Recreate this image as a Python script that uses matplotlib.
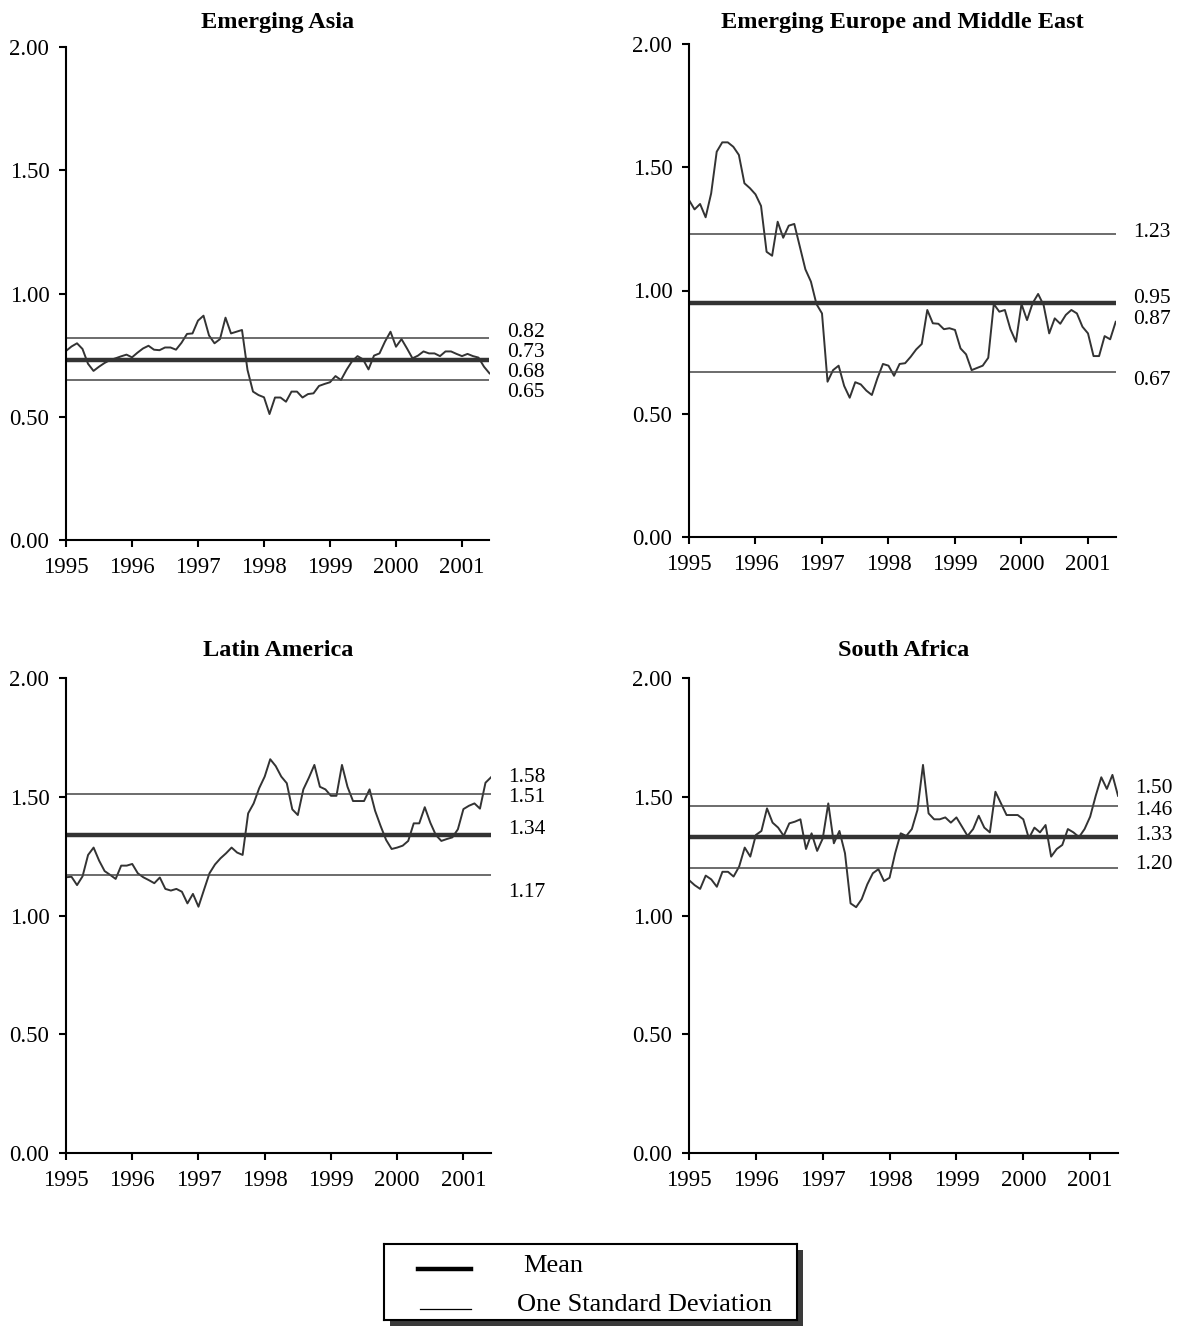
import numpy as np
import matplotlib
matplotlib.use('Agg')
import matplotlib.pyplot as plt
from matplotlib.patches import Rectangle

plt.rcParams['font.family'] = ['Liberation Serif', 'DejaVu Serif']

# monthly series, Jan 1995 - Jun 2001
months = 1995 + np.arange(78) / 12.0

asia = [0.767, 0.785, 0.798, 0.775, 0.715, 0.686, 0.703, 0.718, 0.730, 0.737,
        0.745, 0.752, 0.741, 0.760, 0.777, 0.788, 0.772, 0.770, 0.781, 0.781,
        0.772, 0.800, 0.836, 0.838, 0.890, 0.910, 0.830, 0.798, 0.815, 0.902,
        0.838, 0.845, 0.852, 0.690, 0.602, 0.588, 0.579, 0.511, 0.578, 0.578,
        0.561, 0.602, 0.602, 0.578, 0.592, 0.595, 0.625, 0.633, 0.640, 0.665,
        0.649, 0.690, 0.725, 0.746, 0.733, 0.692, 0.748, 0.757, 0.805, 0.845,
        0.784, 0.815, 0.777, 0.737, 0.748, 0.765, 0.757, 0.757, 0.746, 0.765,
        0.765, 0.755, 0.746, 0.755, 0.746, 0.740, 0.703, 0.676]

europe = [1.367, 1.329, 1.351, 1.297, 1.394, 1.563, 1.601, 1.601, 1.583, 1.550,
          1.435, 1.415, 1.390, 1.343, 1.157, 1.141, 1.279, 1.214, 1.263, 1.270,
          1.178, 1.086, 1.036, 0.945, 0.907, 0.630, 0.677, 0.695, 0.613, 0.565,
          0.628, 0.619, 0.594, 0.576, 0.644, 0.702, 0.695, 0.654, 0.702, 0.705,
          0.731, 0.761, 0.783, 0.921, 0.867, 0.865, 0.843, 0.847, 0.840, 0.765,
          0.741, 0.677, 0.686, 0.695, 0.727, 0.945, 0.914, 0.921, 0.843, 0.792,
          0.945, 0.880, 0.948, 0.986, 0.940, 0.826, 0.887, 0.865, 0.901, 0.921,
          0.907, 0.853, 0.826, 0.734, 0.734, 0.815, 0.802, 0.873]

latam = [1.161, 1.163, 1.128, 1.165, 1.255, 1.286, 1.231, 1.187, 1.171, 1.154,
         1.210, 1.210, 1.217, 1.178, 1.161, 1.149, 1.136, 1.160, 1.112, 1.105,
         1.112, 1.100, 1.051, 1.091, 1.037, 1.108, 1.178, 1.215, 1.241, 1.262,
         1.286, 1.265, 1.255, 1.430, 1.472, 1.536, 1.585, 1.658, 1.629, 1.585,
         1.557, 1.447, 1.423, 1.531, 1.580, 1.634, 1.542, 1.531, 1.504, 1.504,
         1.634, 1.542, 1.482, 1.482, 1.482, 1.531, 1.441, 1.377, 1.318, 1.280,
         1.286, 1.294, 1.314, 1.388, 1.388, 1.456, 1.391, 1.339, 1.314, 1.322,
         1.329, 1.363, 1.448, 1.462, 1.472, 1.450, 1.559, 1.582]

safrica = [1.149, 1.128, 1.112, 1.168, 1.152, 1.121, 1.184, 1.184, 1.164, 1.206,
           1.286, 1.248, 1.339, 1.356, 1.451, 1.391, 1.370, 1.335, 1.388, 1.395,
           1.405, 1.280, 1.346, 1.272, 1.324, 1.472, 1.304, 1.356, 1.262, 1.051,
           1.035, 1.069, 1.131, 1.178, 1.195, 1.145, 1.159, 1.262, 1.346, 1.335,
           1.364, 1.444, 1.634, 1.430, 1.405, 1.405, 1.413, 1.391, 1.413, 1.374,
           1.335, 1.364, 1.420, 1.370, 1.350, 1.521, 1.472, 1.423, 1.423, 1.423,
           1.405, 1.325, 1.370, 1.350, 1.381, 1.248, 1.280, 1.297, 1.364, 1.350,
           1.330, 1.364, 1.416, 1.504, 1.582, 1.533, 1.592, 1.504]

titles = ['Emerging Asia', 'Emerging Europe and Middle East',
          'Latin America', 'South Africa']
series = [asia, europe, latam, safrica]
means = [0.73, 0.95, 1.34, 1.33]
upper = [0.82, 1.23, 1.51, 1.46]
lower = [0.65, 0.67, 1.17, 1.20]
last_vals = [0.68, 0.87, 1.58, 1.50]

# layout (pixels): left, right, top, bottom, title pad, label y spots
W, H = 1185, 1326
boxes = [(66, 489.5, 47, 540, 14), (689, 1115.7, 44, 537, 11.5),
         (66, 491, 678, 1153, 16), (689, 1118, 678, 1153, 16)]
label_spots = [[0.842, 0.761, 0.680, 0.598],
               [1.237, 0.966, 0.884, 0.633],
               [1.579, 1.495, 1.36, 1.095],
               [1.533, 1.444, 1.335, 1.213]]

fig = plt.figure(figsize=(W / 100, H / 100), dpi=100)

for k in range(4):
    l, r, t, b, pad = boxes[k]
    ax = fig.add_axes([l / W, 1 - b / H, (r - l) / W, (b - t) / H])
    ax.plot(months, series[k], color='#333333', lw=1.4)
    ax.hlines(means[k], months[0], months[-1], color='#333333', lw=3.2)
    ax.hlines([upper[k], lower[k]], months[0], months[-1], color='#444444', lw=1.1)
    ax.set_xlim(months[0], months[-1])
    ax.set_ylim(0, 2)
    ax.set_yticks([0, 0.5, 1.0, 1.5, 2.0])
    ax.set_yticklabels(['%.2f' % v for v in [0, 0.5, 1.0, 1.5, 2.0]])
    ax.set_xticks(range(1995, 2002))
    ax.set_xticklabels([str(y) for y in range(1995, 2002)])
    for s in ['top', 'right']:
        ax.spines[s].set_visible(False)
    for s in ['left', 'bottom']:
        ax.spines[s].set_linewidth(1.5)
    ax.tick_params(direction='out', length=5, width=1.5, labelsize=16.5, pad=7)
    ax.set_title(titles[k], fontsize=17.5, fontweight='bold', pad=pad)
    vals = sorted([upper[k], means[k], lower[k], last_vals[k]], reverse=True)
    for v, spot in zip(vals, label_spots[k]):
        ax.annotate('%.2f' % v, xy=(1, spot), xycoords=ax.get_yaxis_transform(),
                    xytext=(12.5, 0), textcoords='offset points', va='center',
                    ha='left', fontsize=15.5, annotation_clip=False)

# legend box with shadow
lx0, lx1, ly0, ly1 = 384, 797, 1244, 1320
fig.patches.append(Rectangle(((lx0 + 6) / W, 1 - (ly1 + 6) / H), (lx1 - lx0) / W,
                             (ly1 - ly0) / H, transform=fig.transFigure,
                             facecolor='#3a3a3a', edgecolor='none', zorder=0))
lax = fig.add_axes([lx0 / W, 1 - ly1 / H, (lx1 - lx0) / W, (ly1 - ly0) / H])
lax.set_zorder(5)
lax.set_facecolor('white')
lax.set_xlim(lx0, lx1)
lax.set_ylim(ly1, ly0)
lax.set_xticks([])
lax.set_yticks([])
for s in lax.spines.values():
    s.set_linewidth(1.5)
lax.plot([418, 471], [1269, 1269], color='black', lw=3.2)
lax.plot([420, 471], [1309, 1309], color='black', lw=0.9)
lax.text(523, 1266, 'Mean', fontsize=19, va='center', ha='left')
lax.text(517, 1305, 'One Standard Deviation', fontsize=19, va='center', ha='left')

fig.savefig('out.png', dpi=100)
